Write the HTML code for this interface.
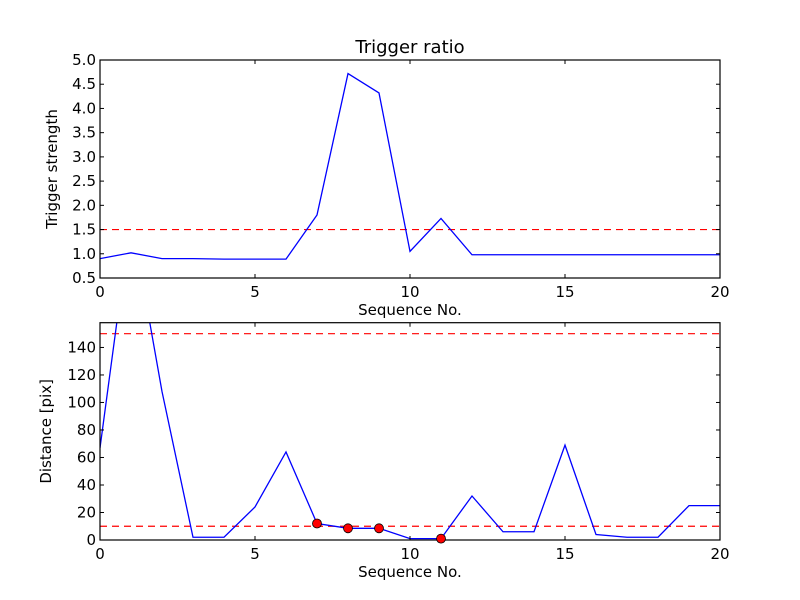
<!DOCTYPE html>
<html><head><meta charset="utf-8"><style>
body{margin:0;background:#fff}
svg{display:block;font-family:"DejaVu Sans","Liberation Sans",sans-serif}
</style></head><body>
<svg id="chart" width="800" height="600" viewBox="0 0 800 600">
<rect width="800" height="600" fill="#fff"/>
<g id="topPanel"></g><g id="botPanel"></g>
</svg>
<script>
const seqX = [0,1,2,3,4,5,6,7,8,9,10,11,12,13,14,15,16,17,18,19,20];
const strength = [0.9,1.02,0.9,0.9,0.89,0.89,0.89,1.8,4.72,4.32,1.05,1.73,0.98,0.98,0.98,0.98,0.98,0.98,0.98,0.98,0.98];
const distance = [67,235,108,2,2,24,64,12,8.5,8.5,1,1,32,6,6,69,4,2,2,25,25];
const markX = [7,8,9,11];
const markY = [12,8.5,8.5,1];
const topTicksY = [0.5,1.0,1.5,2.0,2.5,3.0,3.5,4.0,4.5,5.0];
const botTicksY = [0,20,40,60,80,100,120,140];
const ticksX = [0,5,10,15,20];
const topThresh = [1.5];
const botThresh = [10,150];

const NS="http://www.w3.org/2000/svg";
function mk(p,t,a){const e=document.createElementNS(NS,t);for(const k in a)e.setAttribute(k,a[k]);p.appendChild(e);return e;}
function panel(g,L,R,T,B,ymin,ymax,ys,yticks,fmt,thr,ylabel,prefix){
  const sx=v=>L+(v-0)/(20-0)*(R-L);
  const sy=v=>B-(v-ymin)/(ymax-ymin)*(B-T);
  const defs=mk(g,'clipPath',{id:prefix+'clip'});mk(defs,'rect',{x:L,y:T,width:R-L,height:B-T});
  thr.forEach(v=>{const l=mk(g,'line',{x1:L,x2:R,y1:sy(v),y2:sy(v),stroke:'#f00','stroke-width':1.2,'stroke-dasharray':'7,5'});
    
    });
  const pl=mk(g,'polyline',{points:seqX.map((x,i)=>sx(x)+','+sy(ys[i])).join(' '),fill:'none',stroke:'#00f','stroke-width':1.3,'clip-path':'url(#'+prefix+'clip)'});
  
  
  mk(g,'rect',{x:L,y:T,width:R-L,height:B-T,fill:'none',stroke:'#000','stroke-width':1.2});
  yticks.forEach(v=>{const y=sy(v);
    mk(g,'line',{x1:L,x2:L+4,y1:y,y2:y,stroke:'#000'});mk(g,'line',{x1:R-4,x2:R,y1:y,y2:y,stroke:'#000'});
    const t=mk(g,'text',{x:L-4,y:y+5,'text-anchor':'end','font-size':15});t.textContent=fmt(v);
    
    });
  ticksX.forEach(v=>{const x=sx(v);
    mk(g,'line',{x1:x,x2:x,y1:B,y2:B-4,stroke:'#000'});mk(g,'line',{x1:x,x2:x,y1:T,y2:T+4,stroke:'#000'});
    const t=mk(g,'text',{x:x,y:B+19,'text-anchor':'middle','font-size':15});t.textContent=v;
    
    });
  const xl=mk(g,'text',{x:(L+R)/2,y:B+37,'text-anchor':'middle','font-size':15});xl.textContent='Sequence No.';
  
  
  const yl=mk(g,'text',{x:0,y:0,'text-anchor':'middle','font-size':15,transform:'translate('+(prefix==='top-'?57:51)+','+((T+B)/2)+') rotate(-90)'});yl.textContent=ylabel;
  
  
  return {sx,sy};
}
const topG=document.getElementById('topPanel');
panel(topG,100,720,60,278,0.5,5.0,strength,topTicksY,v=>v.toFixed(1),topThresh,'Trigger strength','top-');
const tt=mk(topG,'text',{x:410,y:53,'text-anchor':'middle','font-size':18});tt.textContent='Trigger ratio';


const botG=document.getElementById('botPanel');
const sc=panel(botG,100,720,322.7,540,0,158,distance,botTicksY,v=>String(v),botThresh,'Distance [pix]','bottom-');
markX.forEach((x,i)=>{const c=mk(botG,'circle',{cx:sc.sx(x),cy:sc.sy(markY[i]),r:4.5,fill:'#f00',stroke:'#000','stroke-width':0.8});
  
  });
</script>
</body></html>
